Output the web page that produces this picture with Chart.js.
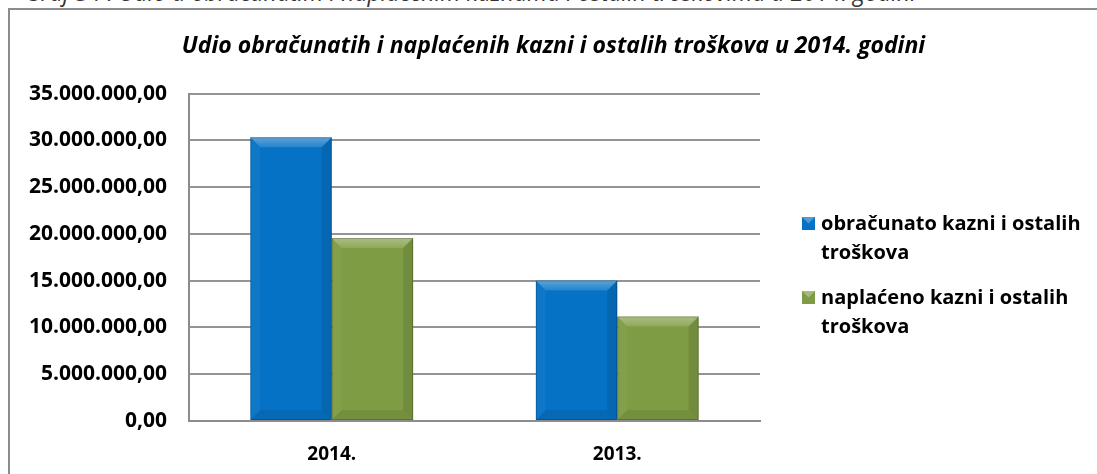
<!DOCTYPE html>
<html>
<head>
<meta charset="utf-8">
<script src="https://cdn.jsdelivr.net/npm/chart.js@4/dist/chart.umd.min.js"></script>
<style>
  body { margin: 0; background: #fff; width: 1097px; height: 474px; overflow: hidden; position: relative; }
  #caption {
    position: absolute; left: 25px; top: -18px; white-space: nowrap;
    font: italic 23px "Open Sans", sans-serif; color: #333; line-height: 20px;
  }
  #box {
    position: absolute; left: 8px; top: 8px; width: 1100px; height: 480px;
    border: 2px solid #8c8c8c; box-sizing: border-box;
  }
  #wrap { position: absolute; left: 10px; top: 10px; width: 1087px; height: 464px; }
</style>
</head>
<body>
<div id="caption">Graf 34 : Udio u obračunatim i naplaćenim kaznama i ostalih troškovima u 2014. godini</div>
<div id="box"></div>
<div id="wrap"><canvas id="chart"></canvas></div>
<script>
const chartTitle = 'Udio obračunatih i naplaćenih kazni i ostalih troškova u 2014. godini'
const years = ['2014.', '2013.']
const seriesNames = ['obračunato kazni i ostalih troškova', 'naplaćeno kazni i ostalih troškova']
const obracunato = [30330000, 15020000]
const naplaceno = [19560000, 11170000]

const blue = '#0672c6'
const green = '#7e9c43'
const fontFam = '"Open Sans", sans-serif'

// 35000000 -> 35.000.000,00
function formatHr(v) {
  let parts = v.toFixed(2).split('.')
  parts[0] = parts[0].replace(/\B(?=(\d{3})+(?!\d))/g, '.')
  return parts.join(',')
}

// bevel look of the excel bars
const bevelPlugin = {
  id: 'bevel',
  afterDatasetsDraw(chart) {
    const ctx = chart.ctx
    chart.data.datasets.forEach((ds, i) => {
      chart.getDatasetMeta(i).data.forEach(bar => {
        const L = bar.x - bar.width / 2, R = bar.x + bar.width / 2
        const T = bar.y, B = bar.base
        const b = 10
        ctx.save()
        // top
        let g = ctx.createLinearGradient(0, T, 0, T + b)
        g.addColorStop(0, 'rgba(255,255,255,0.35)')
        g.addColorStop(1, 'rgba(255,255,255,0.12)')
        ctx.beginPath()
        ctx.moveTo(L, T); ctx.lineTo(R, T); ctx.lineTo(R - b, T + b); ctx.lineTo(L + b, T + b); ctx.closePath()
        ctx.fillStyle = g
        ctx.fill()
        // left
        ctx.beginPath()
        ctx.moveTo(L, T); ctx.lineTo(L + b, T + b); ctx.lineTo(L + b, B - b); ctx.lineTo(L, B); ctx.closePath()
        ctx.fillStyle = 'rgba(255,255,255,0.04)'
        ctx.fill()
        // right
        ctx.beginPath()
        ctx.moveTo(R, T); ctx.lineTo(R - b, T + b); ctx.lineTo(R - b, B - b); ctx.lineTo(R, B); ctx.closePath()
        ctx.fillStyle = 'rgba(0,0,0,0.10)'
        ctx.fill()
        // bottom
        ctx.beginPath()
        ctx.moveTo(L, B); ctx.lineTo(L + b, B - b); ctx.lineTo(R - b, B - b); ctx.lineTo(R, B); ctx.closePath()
        ctx.fillStyle = 'rgba(0,0,0,0.08)'
        ctx.fill()
        ctx.strokeStyle = 'rgba(0,0,0,0.2)'
        ctx.lineWidth = 1
        ctx.strokeRect(L + 0.5, T + 0.5, R - L - 1, B - T - 1)
        ctx.restore()
      })
    })
  }
}

// legend on the right, wrapped on two lines
const sideLegend = {
  id: 'sideLegend',
  afterDraw(chart) {
    const ctx = chart.ctx
    const x = 792
    const tops = [206, 280]
    ctx.save()
    ctx.font = 'bold 20px ' + fontFam
    ctx.textBaseline = 'alphabetic'
    chart.data.datasets.forEach((ds, i) => {
      const y = tops[i]
      ctx.fillStyle = ds.backgroundColor
      ctx.fillRect(x, y + 1, 13, 13)
      ctx.fillStyle = 'rgba(255,255,255,0.3)'
      ctx.beginPath()
      ctx.moveTo(x, y + 1); ctx.lineTo(x + 13, y + 1); ctx.lineTo(x + 6.5, y + 7.5); ctx.closePath()
      ctx.fill()
      ctx.fillStyle = '#000'
      const words = ds.label.split(' ')
      ctx.fillText(words.slice(0, 4).join(' '), x + 19, y + 14)
      ctx.fillText(words.slice(4).join(' '), x + 19, y + 43)
    })
    ctx.restore()
  }
}

new Chart(document.getElementById('chart'), {
  type: 'bar',
  data: {
    labels: years,
    datasets: [
      { label: seriesNames[0], data: obracunato, backgroundColor: blue },
      { label: seriesNames[1], data: naplaceno, backgroundColor: green }
    ]
  },
  options: {
    responsive: true,
    maintainAspectRatio: false,
    animation: false,
    layout: { padding: 0 },
    datasets: { bar: { barPercentage: 1, categoryPercentage: 0.57 } },
    plugins: {
      legend: { display: false },
      tooltip: { enabled: false },
      title: {
        display: true,
        text: chartTitle,
        color: '#000',
        font: { family: fontFam, size: 23, weight: 'bold', style: 'italic' },
        padding: { top: 23, bottom: 33 }
      }
    },
    scales: {
      x: {
        grid: { display: false, drawTicks: false },
        border: { color: '#8c8c8c', width: 2 },
        ticks: { color: '#000', padding: 22, font: { family: fontFam, size: 19, weight: 'bold' } },
        afterFit(s) { s.height = 53 }
      },
      y: {
        min: 0,
        max: 35000000,
        grid: { color: '#949494', lineWidth: 2, drawTicks: false },
        border: { color: '#8c8c8c', width: 2 },
        ticks: {
          stepSize: 5000000,
          color: '#000',
          padding: 22,
          font: { family: fontFam, size: 21, weight: 'bold' },
          callback: v => formatHr(v)
        },
        afterFit(s) { s.width = 179 }
      },
      // empty right-hand space reserved for the legend
      side: {
        position: 'right',
        grid: { display: false, drawTicks: false },
        border: { display: false },
        ticks: { display: false },
        afterFit(s) { s.width = 337 }
      }
    }
  },
  plugins: [bevelPlugin, sideLegend]
})
</script>
</body>
</html>
